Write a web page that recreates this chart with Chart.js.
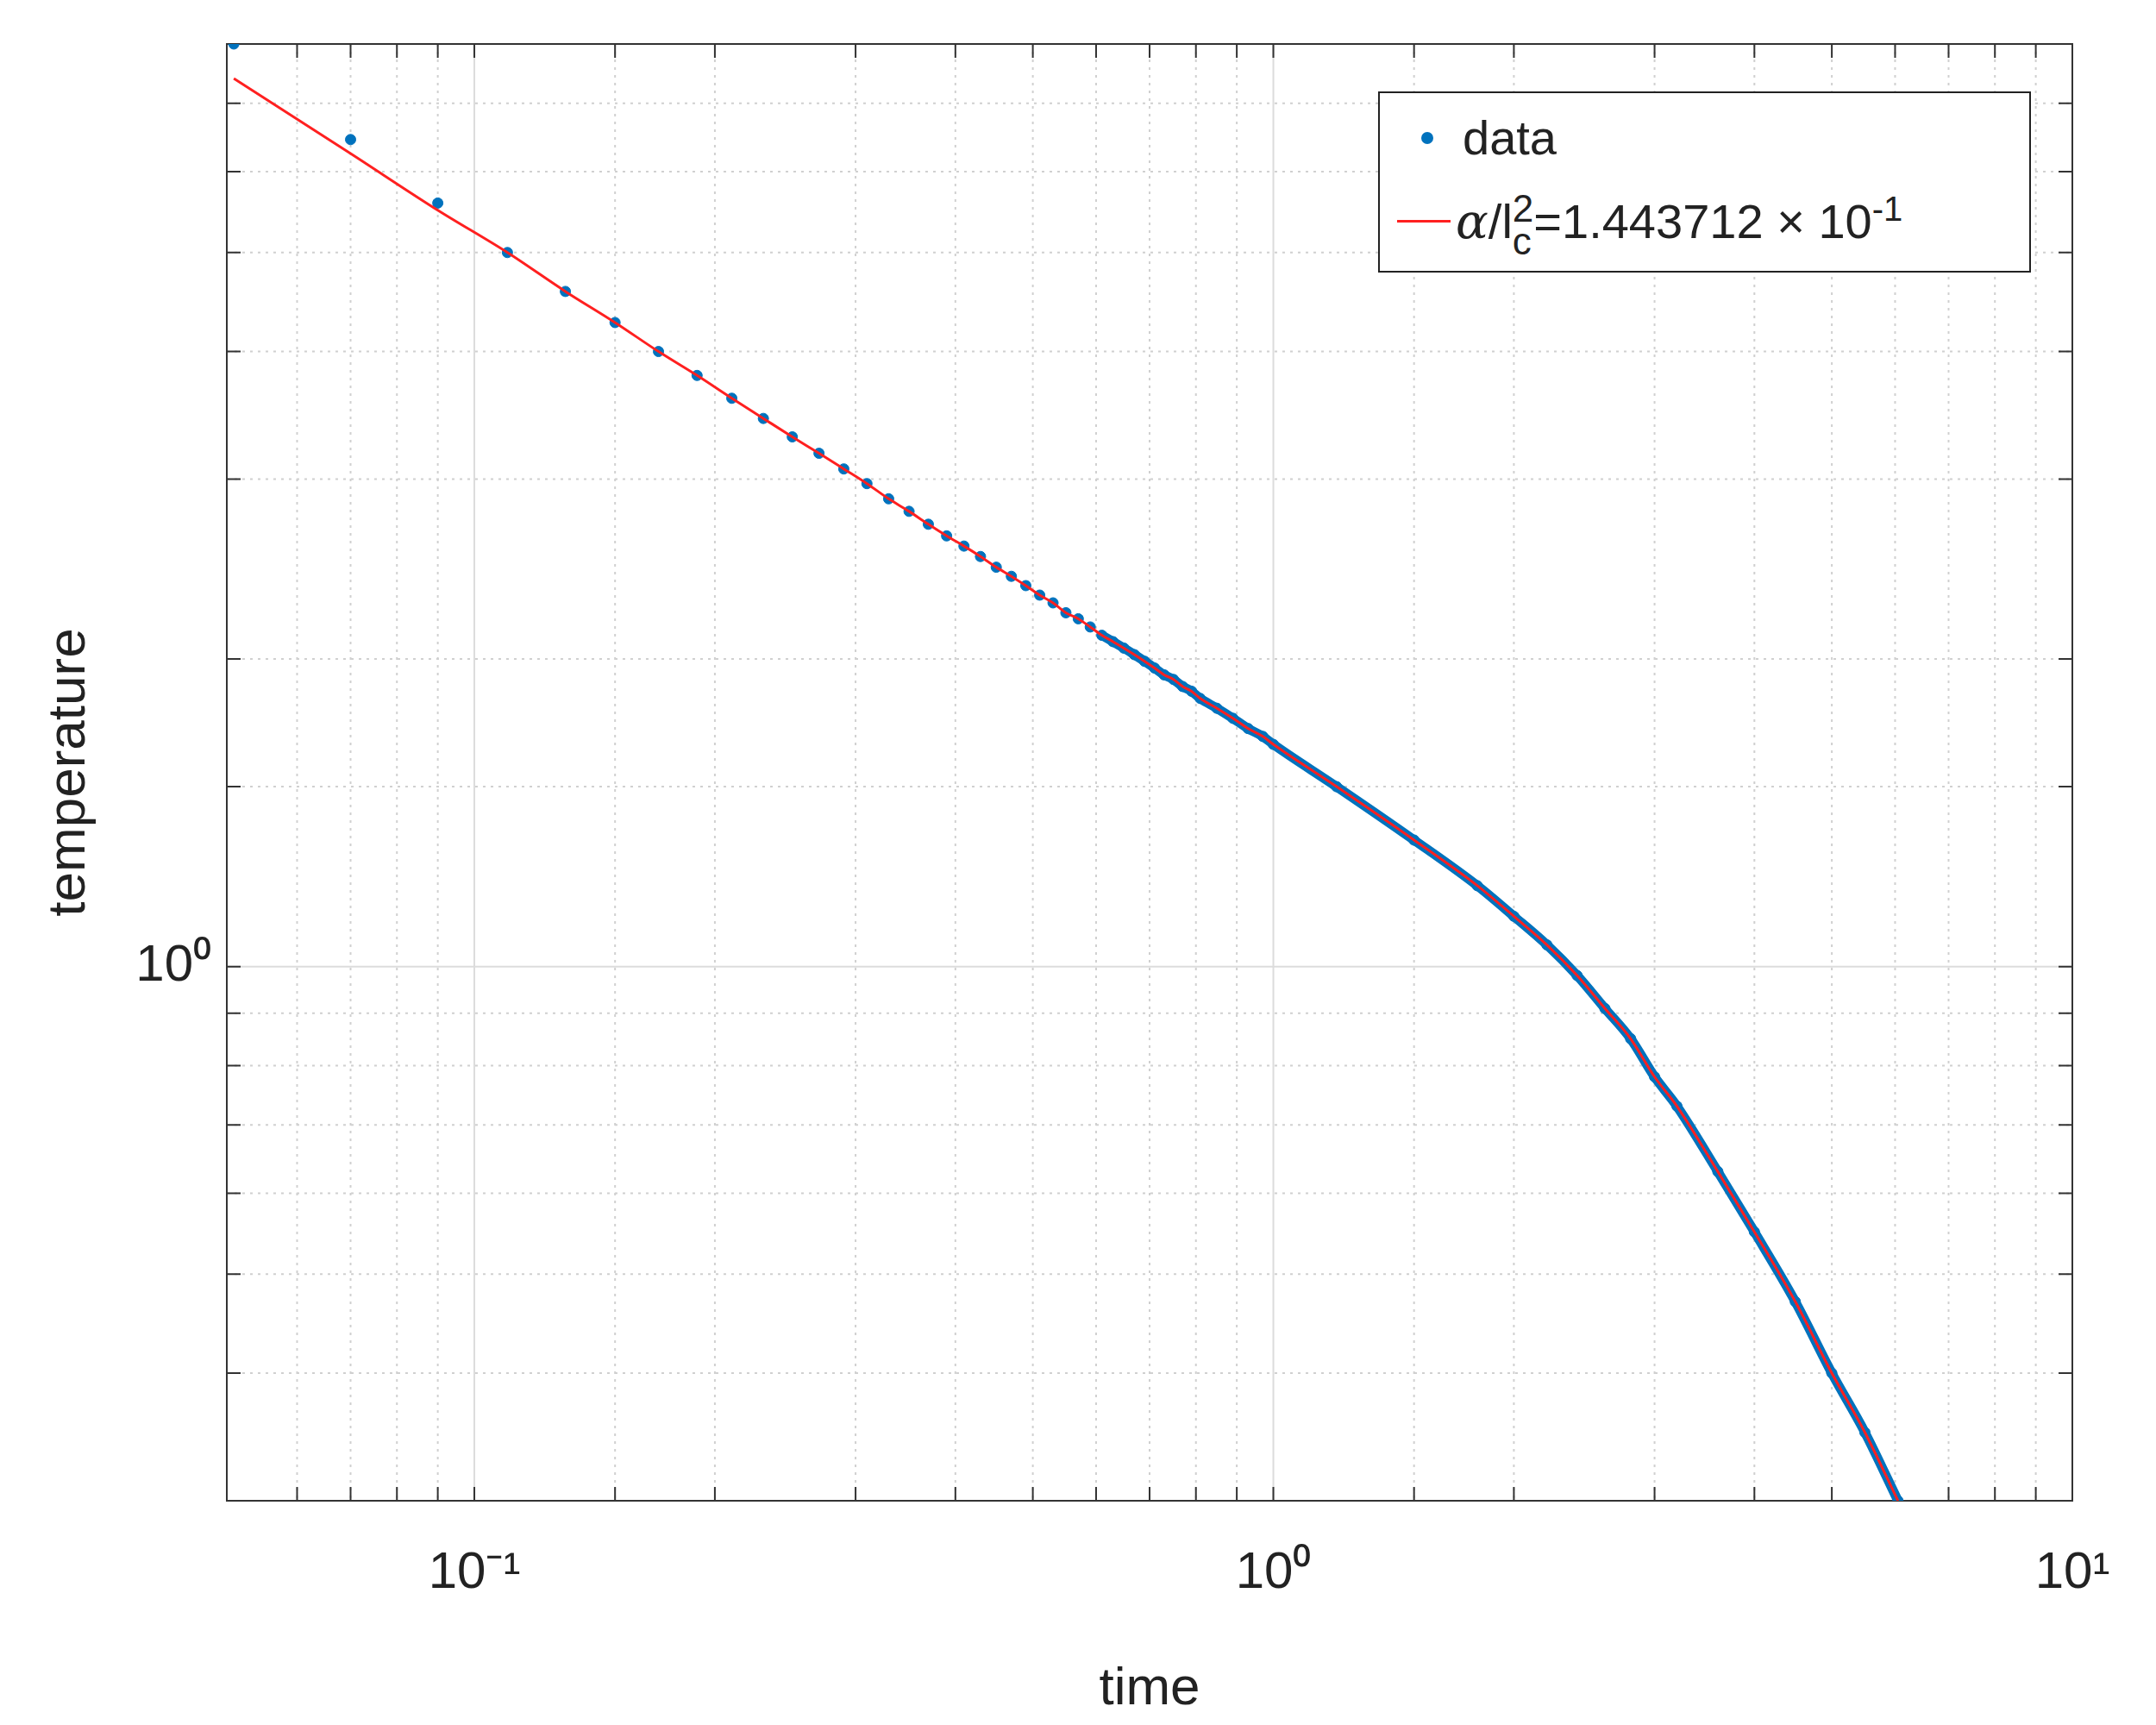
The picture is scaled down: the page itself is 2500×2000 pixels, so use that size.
<!DOCTYPE html>
<html>
<head>
<meta charset="utf-8">
<script src="https://cdn.jsdelivr.net/npm/chart.js@4.4.0/dist/chart.umd.min.js"></script>
<style>
  body { margin: 0; background: #fff; }
  #wrap { position: relative; width: 2500px; height: 2000px; }
  #legend { position: absolute; left: 1598px; top: 106px; width: 757px; height: 210px;
    border: 2px solid #222; background: #fff; font-family: Arial, "Liberation Sans", sans-serif;
    font-size: 56px; color: #222; box-sizing: border-box; }
  .row { position: absolute; left: 0; height: 76px; line-height: 76px; white-space: nowrap; }
  sup { font-size: 40px; }
</style>
</head>
<body>
<div id="wrap">
<canvas id="myChart" width="2500" height="2000"></canvas>
<div id="legend">
  <div class="row" style="top:14px"><span style="display:inline-block;width:14px;height:14px;border-radius:7px;background:#0072BD;margin:0 34px 8px 48px;vertical-align:middle"></span>data</div>
  <div class="row" style="top:96px"><span style="display:inline-block;width:62px;height:3px;background:#ff2020;margin:0 6px 8px 20px;vertical-align:middle"></span><i style="font-family:'DejaVu Serif',serif">α</i>/l<span style="display:inline-block;vertical-align:middle;line-height:38px;font-size:44px;text-align:left"><span style="display:block">2</span><span style="display:block">c</span></span>=1.443712 × 10<sup>-1</sup></div>
</div>
</div>
<script>
'use strict';

var times = [0.05, 0.07, 0.09, 0.11, 0.13, 0.15, 0.17, 0.19, 0.21, 0.23, 0.25, 0.27, 0.29, 0.31, 0.33, 0.35,
  0.37, 0.39, 0.41, 0.43, 0.45, 0.47, 0.49, 0.51, 0.53, 0.55, 0.57, 0.59, 0.61, 0.63, 0.65, 0.67, 0.69,
  0.71, 0.73, 0.75, 0.77, 0.79, 0.81, 0.85, 0.89, 0.93, 0.97, 1.0, 1.2, 1.5, 1.8, 2.0, 2.2, 2.4, 2.6,
  2.8, 3.0, 3.2, 3.6, 4.0, 4.5, 5.0, 5.5, 6.05];
var temps = [8.00, 6.45, 5.59, 5.00, 4.58, 4.27, 4.00, 3.79, 3.60, 3.44, 3.30, 3.18, 3.07, 2.97, 2.87, 2.79,
  2.71, 2.64, 2.58, 2.52, 2.46, 2.41, 2.36, 2.31, 2.27, 2.22, 2.19, 2.15, 2.11, 2.08, 2.05, 2.02, 1.99,
  1.96, 1.93, 1.91, 1.88, 1.86, 1.83, 1.79, 1.75, 1.71, 1.68, 1.65, 1.50, 1.33, 1.20, 1.12, 1.05, 0.98, 0.91,
  0.85, 0.78, 0.73, 0.63, 0.55, 0.47, 0.40, 0.35, 0.30];
// fit differs from data only at the first three samples
var fitStart = [7.40, 6.25, 5.50];
var xTickLabels = { '0.1': '10⁻¹', '1': '10⁰', '10': '10¹' };
var yTickLabels = { '1': '10⁰' };

var dataPts = times.map(function(t, i) { return { x: t, y: temps[i] }; });
var densePts = dataPts.filter(function(p) { return p.x >= 0.6; });
var fitPts = dataPts.map(function(p, i) { return { x: p.x, y: i < fitStart.length ? fitStart[i] : p.y }; });

function isPow10(v) {
  var l = Math.log10(v);
  return Math.abs(l - Math.round(l)) < 1e-6;
}

var gridPlugin = {
  id: 'matlabGrid',
  beforeDatasetsDraw: function(chart) {
    var c = chart.ctx, a = chart.chartArea, xs = chart.scales.x, ys = chart.scales.y;
    c.save();
    c.lineWidth = 2;
    xs.ticks.forEach(function(t) {
      var px = xs.getPixelForValue(t.value);
      if (px < a.left + 1 || px > a.right - 1) return;
      c.strokeStyle = isPow10(t.value) ? '#dcdcdc' : '#d0d0d0';
      c.setLineDash(isPow10(t.value) ? [] : [3, 6]);
      c.beginPath(); c.moveTo(px, a.top); c.lineTo(px, a.bottom); c.stroke();
      c.setLineDash([]); c.strokeStyle = '#333';
      c.beginPath(); c.moveTo(px, a.bottom); c.lineTo(px, a.bottom - 16);
      c.moveTo(px, a.top); c.lineTo(px, a.top + 16); c.stroke();
    });
    ys.ticks.forEach(function(t) {
      var py = ys.getPixelForValue(t.value);
      if (py < a.top + 1 || py > a.bottom - 1) return;
      c.strokeStyle = isPow10(t.value) ? '#dcdcdc' : '#d0d0d0';
      c.setLineDash(isPow10(t.value) ? [] : [3, 6]);
      c.beginPath(); c.moveTo(a.left, py); c.lineTo(a.right, py); c.stroke();
      c.setLineDash([]); c.strokeStyle = '#333';
      c.beginPath(); c.moveTo(a.left, py); c.lineTo(a.left + 16, py);
      c.moveTo(a.right, py); c.lineTo(a.right - 16, py); c.stroke();
    });
    c.strokeStyle = '#333';
    c.lineWidth = 2;
    c.strokeRect(a.left, a.top, a.right - a.left, a.bottom - a.top);
    c.restore();
  }
};

var ctx = document.getElementById('myChart').getContext('2d');

var chart = new Chart(ctx, {
  type: 'scatter',
  data: {
    datasets: [{
      label: 'fit',
      data: fitPts,
      showLine: true,
      borderColor: '#ff2020',
      borderWidth: 3,
      pointRadius: 0,
      cubicInterpolationMode: 'monotone',
      order: 0
    },
    {
      label: 'dense',
      data: densePts,
      showLine: true,
      borderColor: '#0072BD',
      borderWidth: 11,
      pointRadius: 0,
      cubicInterpolationMode: 'monotone',
      order: 2
    },
    {
      label: 'data',
      data: dataPts,
      backgroundColor: '#0072BD',
      borderColor: '#0072BD',
      pointRadius: 6,
      order: 1
    }]
  },
  options: {
    responsive: false,
    animation: false,
    layout: { padding: { top: 51, right: 97, left: 40 } },
    plugins: { legend: { display: false }, tooltip: { enabled: false } },
    scales: {
      x: {
        type: 'logarithmic',
        min: 0.049,
        max: 10,
        grid: { display: false },
        border: { display: false },
        afterFit: function(s) { s.height = 260; },
        ticks: {
          autoSkip: false, maxRotation: 0, padding: 40, color: '#222',
          font: { family: 'Arial, "Liberation Sans"', size: 60 },
          callback: function(v) { return xTickLabels[String(+v.toPrecision(6))] || ''; }
        },
        title: { display: true, text: 'time', color: '#222', padding: { top: 0 },
          font: { family: 'Arial, "Liberation Sans"', size: 62 } }
      },
      y: {
        type: 'logarithmic',
        min: 0.3,
        max: 8,
        grid: { display: false },
        border: { display: false },
        afterFit: function(s) { s.width = 223; },
        ticks: {
          autoSkip: false, padding: 10, color: '#222',
          font: { family: 'Arial, "Liberation Sans"', size: 60 },
          callback: function(v) { return yTickLabels[String(+v.toPrecision(6))] || ''; }
        },
        title: { display: true, text: 'temperature', color: '#222', padding: { bottom: 20 },
          font: { family: 'Arial, "Liberation Sans"', size: 62 } }
      }
    }
  },
  plugins: [gridPlugin]
});
</script>
</body>
</html>
